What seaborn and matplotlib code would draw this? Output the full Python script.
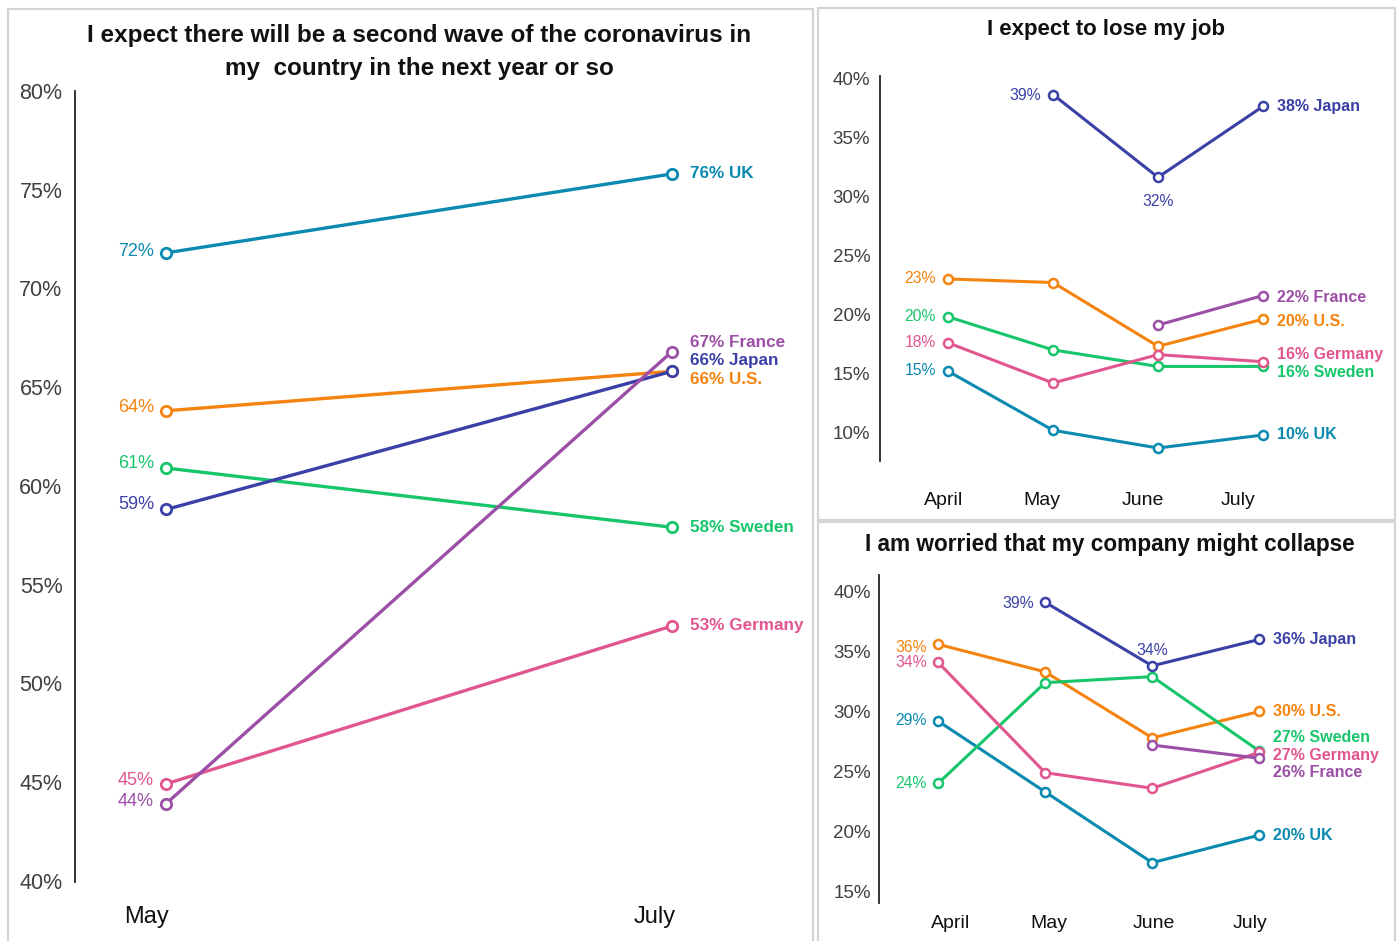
import numpy as np
import pandas as pd
import matplotlib
matplotlib.use("Agg")
import matplotlib.pyplot as plt
import matplotlib.transforms as mtransforms
from matplotlib.patches import Rectangle
import seaborn as sns

nan = np.nan

# ---- data -----------------------------------------------------------------
countries = ["UK", "U.S.", "Sweden", "Germany", "Japan", "France"]
palette = {
    "UK": "#0A8AB0",
    "Japan": "#3A40A6",
    "France": "#9C4FA6",
    "U.S.": "#F5830F",
    "Sweden": "#17C66B",
    "Germany": "#E2568F",
}

wave_title = "I expect there will be a second wave of the coronavirus in\nmy  country in the next year or so"
wave_months = ["May", "July"]
wave_uk = [71.8, 75.8]
wave_japan = [58.8, 65.8]
wave_france = [43.9, 66.8]
wave_us = [63.8, 65.8]
wave_sweden = [60.9, 57.9]
wave_germany = [44.9, 52.9]
wave_ticks = [40, 45, 50, 55, 60, 65, 70, 75, 80]

job_title = "I expect to lose my job"
job_months = ["April", "May", "June", "July"]
job_uk = [15.2, 10.2, 8.7, 9.8]
job_japan = [nan, 38.6, 31.6, 37.6]
job_france = [nan, nan, 19.1, 21.6]
job_us = [23.0, 22.7, 17.3, 19.6]
job_sweden = [19.8, 17.0, 15.6, 15.6]
job_germany = [17.6, 14.2, 16.6, 16.0]
job_ticks = [10, 15, 20, 25, 30, 35, 40]

collapse_title = "I am worried that my company might collapse"
collapse_months = ["April", "May", "June", "July"]
collapse_uk = [29.2, 23.3, 17.4, 19.7]
collapse_japan = [nan, 39.1, 33.8, 36.0]
collapse_france = [nan, nan, 27.2, 26.1]
collapse_us = [35.6, 33.3, 27.8, 30.0]
collapse_sweden = [24.0, 32.4, 32.9, 26.7]
collapse_germany = [34.1, 24.9, 23.6, 26.6]
collapse_ticks = [15, 20, 25, 30, 35, 40]


def long_frame(months, series):
    rows = []
    for country, vals in series.items():
        for i, (m, v) in enumerate(zip(months, vals)):
            rows.append({"country": country, "month": m, "pos": i, "value": v})
    return pd.DataFrame(rows)


wave_df = long_frame(wave_months, {"UK": wave_uk, "Japan": wave_japan, "France": wave_france,
                                   "U.S.": wave_us, "Sweden": wave_sweden, "Germany": wave_germany})
job_df = long_frame(job_months, {"UK": job_uk, "Japan": job_japan, "France": job_france,
                                 "U.S.": job_us, "Sweden": job_sweden, "Germany": job_germany})
collapse_df = long_frame(collapse_months, {"UK": collapse_uk, "Japan": collapse_japan,
                                           "France": collapse_france, "U.S.": collapse_us,
                                           "Sweden": collapse_sweden, "Germany": collapse_germany})

# ---- style ----------------------------------------------------------------
sns.set_theme(style="white")
plt.rcParams["font.family"] = ["Liberation Sans", "DejaVu Sans"]

W, H = 1400, 941
fig = plt.figure(figsize=(W / 100, H / 100), dpi=100)
fig.patch.set_facecolor("white")


def fig_rect(x0, y0, x1, y1):
    """Pixel box (top-left origin) to figure-fraction rect."""
    return [x0 / W, 1 - y1 / H, (x1 - x0) / W, (y1 - y0) / H]


# panel frames
for (x0, y0, x1, y1) in [(8, 9, 813, 945), (818, 8, 1395, 520), (818, 522, 1395, 945)]:
    fig.patches.append(Rectangle((x0 / W, 1 - y1 / H), (x1 - x0) / W, (y1 - y0) / H,
                                 transform=fig.transFigure, facecolor="none",
                                 edgecolor="#D4D4D4", linewidth=1.6, zorder=0))


def draw_panel(ax, df, months, ylim, xlim, yticks, tick_fs, tick_pad, xfs, xpad, xshifts,
               start_labels, end_labels, mid_labels, start_fs, end_fs, lw, ms, mew,
               start_dx, end_dx):
    for c in countries:
        sub = df[(df.country == c)].dropna(subset=["value"])
        sns.lineplot(data=sub, x="pos", y="value", ax=ax, color=palette[c], linewidth=lw,
                     marker="o", markersize=ms, markerfacecolor="white",
                     markeredgecolor=palette[c], markeredgewidth=mew, legend=False,
                     estimator=None, sort=True, zorder=3)
        vals = sub["value"].to_numpy()
        pos = sub["pos"].to_numpy()
        if c in start_labels:
            dy = start_labels[c]
            ax.annotate(f"{vals[0]:.0f}%", (pos[0], vals[0]), xytext=(start_dx, dy),
                        textcoords="offset pixels", ha="right", va="center",
                        color=palette[c], fontsize=start_fs, zorder=5)
        if c in end_labels:
            dy = end_labels[c]
            ax.annotate(f"{vals[-1]:.0f}% {c}", (pos[-1], vals[-1]), xytext=(end_dx, dy),
                        textcoords="offset pixels", ha="left", va="center",
                        color=palette[c], fontsize=end_fs, fontweight="bold", zorder=5)
        for (mc, mi, dy) in mid_labels:
            if mc == c:
                v = df[(df.country == c) & (df.pos == mi)]["value"].iloc[0]
                ax.annotate(f"{v:.0f}%", (mi, v), xytext=(0, dy), textcoords="offset pixels",
                            ha="center", va="center", color=palette[c], fontsize=start_fs,
                            zorder=5)
    ax.set_xlim(*xlim)
    ax.set_ylim(*ylim)
    ax.set_xticks(range(len(months)))
    ax.set_xticklabels(months, fontsize=xfs, color="#111111")
    ax.set_yticks(yticks)
    ax.set_yticklabels([f"{t}%" for t in yticks], fontsize=tick_fs, color="#404040")
    ax.tick_params(axis="y", length=0, pad=tick_pad)
    ax.tick_params(axis="x", length=0, pad=xpad)
    for lab, dx in zip(ax.get_xticklabels(), xshifts):
        lab.set_transform(lab.get_transform() +
                          mtransforms.ScaledTranslation(dx / 100, 0, fig.dpi_scale_trans))
    ax.set_xlabel("")
    ax.set_ylabel("")
    for s in ["top", "right", "bottom"]:
        ax.spines[s].set_visible(False)
    ax.spines["left"].set_color("#222222")
    ax.spines["left"].set_linewidth(1.3)
    ax.set_facecolor("none")
    ax.grid(False)


# ---- left panel: second wave --------------------------------------------
ax1 = fig.add_axes(fig_rect(75, 91, 800, 882))
draw_panel(ax1, wave_df, wave_months, ylim=(39.93, 80.0), xlim=(-0.18, 1.253),
           yticks=wave_ticks, tick_fs=15.5, tick_pad=9, xfs=17, xpad=17, xshifts=[-20, -17],
           start_labels={"UK": 1, "Japan": 5, "France": 2, "U.S.": 3, "Sweden": 5, "Germany": 3},
           end_labels={"UK": 0, "Japan": 11, "France": 9, "U.S.": -8, "Sweden": 0, "Germany": 0},
           mid_labels=[], start_fs=13, end_fs=12.3, lw=2.4, ms=7.5, mew=2.0,
           start_dx=-12, end_dx=18)
fig.text(419 / W, 1 - 52 / H, wave_title, ha="center", va="center", fontsize=17.5,
         fontweight="bold", color="#111111", linespacing=1.55)

# ---- top right: lose my job ----------------------------------------------
ax2 = fig.add_axes(fig_rect(880, 76, 1390, 461))
draw_panel(ax2, job_df, job_months, ylim=(7.6, 40.17), xlim=(-0.648, 4.21),
           yticks=job_ticks, tick_fs=13.5, tick_pad=7, xfs=14, xpad=22,
           xshifts=[-4, -11, -15, -25],
           start_labels={"UK": 1, "Japan": -1, "U.S.": 0, "Sweden": 0, "Germany": 0},
           end_labels={"UK": 0, "Japan": 0, "France": -2, "U.S.": -2, "Sweden": -6, "Germany": 7},
           mid_labels=[("Japan", 2, -24)], start_fs=11.3, end_fs=11.5, lw=2.2, ms=6.5,
           mew=1.8, start_dx=-12, end_dx=14)
fig.text(1106 / W, 1 - 29 / H, job_title, ha="center", va="center", fontsize=16,
         fontweight="bold", color="#111111")

# ---- bottom right: company collapse --------------------------------------
ax3 = fig.add_axes(fig_rect(879, 575, 1390, 903))
draw_panel(ax3, collapse_df, collapse_months, ylim=(14.04, 41.37), xlim=(-0.551, 4.22),
           yticks=collapse_ticks, tick_fs=13.5, tick_pad=6, xfs=14, xpad=9,
           xshifts=[13, 4, 2, -9],
           start_labels={"UK": 1, "Japan": -1, "U.S.": -3, "Sweden": 0, "Germany": 0},
           end_labels={"UK": 0, "Japan": 0, "France": -14, "U.S.": 0, "Sweden": 14, "Germany": -3},
           mid_labels=[("Japan", 2, 15)], start_fs=11.3, end_fs=11.5, lw=2.2, ms=6.5,
           mew=1.8, start_dx=-11, end_dx=14)
fig.text(1110 / W, 1 - 545 / H, collapse_title, ha="center", va="center", fontsize=16.3,
         fontweight="bold", color="#111111")

fig.savefig("out.png", dpi=100, facecolor="white")
